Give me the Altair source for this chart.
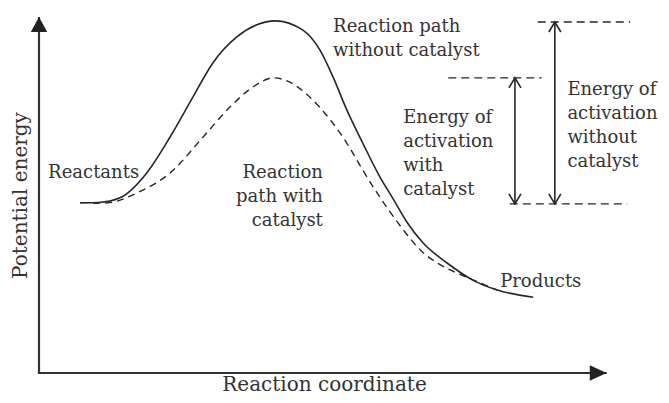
import altair as alt
import pandas as pd

# ---- data (reaction coordinate, potential energy), arbitrary units ----
solid_x = [0.72, 1.05, 1.42, 1.89, 2.30, 2.70, 3.05, 3.47, 3.82, 4.14, 4.63, 4.93, 5.16, 5.40, 5.68, 5.98, 6.21, 6.45, 6.74, 7.16, 7.61, 8.04, 8.67]
solid_y = [4.78, 4.79, 4.92, 5.62, 6.63, 7.75, 8.71, 9.44, 9.78, 9.89, 9.63, 9.07, 8.31, 7.39, 6.46, 5.51, 4.90, 4.25, 3.65, 3.09, 2.61, 2.33, 2.13]

dashed_x = [0.95, 1.20, 1.72, 2.30, 2.88, 3.35, 3.75, 4.11, 4.40, 4.75, 5.11, 5.40, 5.68, 5.98, 6.33, 6.74, 7.00, 7.26, 7.74, 8.04]
dashed_y = [4.77, 4.78, 5.06, 5.62, 6.63, 7.47, 8.03, 8.29, 8.17, 7.75, 7.11, 6.46, 5.70, 4.94, 4.15, 3.38, 3.08, 2.86, 2.53, 2.33]

# energy levels: uncatalysed peak, catalysed peak, reactants
level_y = [9.86, 8.29, 4.75]
level_x1 = [8.75, 7.18, 8.26]
level_x2 = [10.37, 8.82, 10.32]

# activation energy arrows
arrow_x = [8.35, 9.05]
arrow_top = [8.29, 9.86]
arrow_bottom = [4.75, 4.75]

# axes
axis_x_end = 9.96
axis_y_end = 10.0

left_texts = ["Reaction path\nwithout catalyst", "Energy of\nactivation\nwith\ncatalyst",
              "Energy of\nactivation\nwithout\ncatalyst", "Reactants", "Products"]
left_x = [5.16, 6.39, 9.27, 0.16, 8.09]
left_y = [9.58, 7.02, 7.81, 5.48, 2.42]

right_texts = ["Reaction\npath with\ncatalyst"]
right_x = [4.98]
right_y = [5.48]

FONT = "DejaVu Serif"
INK = "#262626"
TXT = "#333333"
FS = 18
TFS = 20

xscale = alt.Scale(domain=[0, 10], nice=False, zero=False)
yscale = alt.Scale(domain=[0, 10], nice=False, zero=False)
xaxis = alt.Axis(title="Reaction coordinate", domain=False, ticks=False, labels=False, grid=False,
                 titleFont=FONT, titleFontSize=TFS, titleFontWeight="normal", titleColor=TXT,
                 titleBaseline="alphabetic", titlePadding=17)
yaxis = alt.Axis(title="Potential energy", domain=False, ticks=False, labels=False, grid=False,
                 titleFont=FONT, titleFontSize=TFS, titleFontWeight="normal", titleColor=TXT, titlePadding=9)


def X(f="x"):
    return alt.X(f, type="quantitative", scale=xscale, axis=xaxis)


def Y(f="y"):
    return alt.Y(f, type="quantitative", scale=yscale, axis=yaxis)


solid = pd.DataFrame({"x": solid_x, "y": solid_y})
dashed = pd.DataFrame({"x": dashed_x, "y": dashed_y})
levels = pd.DataFrame({"x": level_x1, "x2": level_x2, "y": level_y})
arrows = pd.DataFrame({"x": arrow_x, "y": arrow_top, "y2": arrow_bottom})
heads_up = pd.DataFrame({"x": arrow_x, "y": arrow_top})
heads_down = pd.DataFrame({"x": arrow_x, "y": arrow_bottom})
ax_lines = pd.DataFrame({"x": [-0.02, 0.0], "x2": [axis_x_end, 0.0], "y": [0.0, 0.0], "y2": [0.0, axis_y_end]})
ax_up = pd.DataFrame({"x": [0.0], "y": [axis_y_end]})
ax_right = pd.DataFrame({"x": [axis_x_end], "y": [0.0]})
ltext = pd.DataFrame({"x": left_x, "y": left_y, "t": left_texts})
rtext = pd.DataFrame({"x": right_x, "y": right_y, "t": right_texts})

axes_layer = alt.Chart(ax_lines).mark_rule(color="#333333", strokeWidth=2.2).encode(
    x=X(), x2="x2", y=Y(), y2="y2")
up_tri = alt.Chart(ax_up).mark_point(shape="M 0 0 L -0.55 1 L 0.55 1 Z", size=900, filled=True,
                                     opacity=1, color="#222222", strokeWidth=0).encode(x=X(), y=Y())
right_tri = alt.Chart(ax_right).mark_point(shape="M 0 0 L -1 -0.45 L -1 0.45 Z", size=1156, filled=True,
                                           opacity=1, color="#222222", strokeWidth=0).encode(x=X(), y=Y())

solid_layer = alt.Chart(solid).mark_line(color=INK, strokeWidth=1.6, interpolate="monotone").encode(x=X(), y=Y())
dashed_layer = alt.Chart(dashed).mark_line(color=INK, strokeWidth=1.4, strokeDash=[7, 5],
                                           interpolate="monotone").encode(x=X(), y=Y())
level_layer = alt.Chart(levels).mark_rule(color=INK, strokeWidth=1.4, strokeDash=[8, 5]).encode(
    x=X(), x2="x2", y=Y())
arrow_layer = alt.Chart(arrows).mark_rule(color=INK, strokeWidth=1.6).encode(x=X(), y=Y(), y2="y2")
head_up_layer = alt.Chart(heads_up).mark_point(shape="M -0.6 1 L 0 0 L 0.6 1", size=400, filled=False,
                                               opacity=1, color=INK, strokeWidth=1.6).encode(x=X(), y=Y())
head_down_layer = alt.Chart(heads_down).mark_point(shape="M -0.6 -1 L 0 0 L 0.6 -1", size=400, filled=False,
                                                   opacity=1, color=INK, strokeWidth=1.6).encode(x=X(), y=Y())

ltext_layer = alt.Chart(ltext).mark_text(align="left", baseline="alphabetic", font=FONT, fontSize=FS,
                                         color=TXT, lineBreak="\n", lineHeight=24).encode(x=X(), y=Y(), text="t:N")
rtext_layer = alt.Chart(rtext).mark_text(align="right", baseline="alphabetic", font=FONT, fontSize=FS,
                                         color=TXT, lineBreak="\n", lineHeight=24).encode(x=X(), y=Y(), text="t:N")

chart = alt.layer(
    axes_layer, up_tri, right_tri, solid_layer, dashed_layer, level_layer, arrow_layer,
    head_up_layer, head_down_layer, ltext_layer, rtext_layer
).properties(
    width=570, height=356,
    padding={"left": 31, "top": 9, "right": 52, "bottom": 22},
    autosize=alt.AutoSizeParams(type="none"),
    background="white",
).configure_view(stroke=None)

chart.save("out.html", embed_options={"renderer": "svg", "actions": False})
